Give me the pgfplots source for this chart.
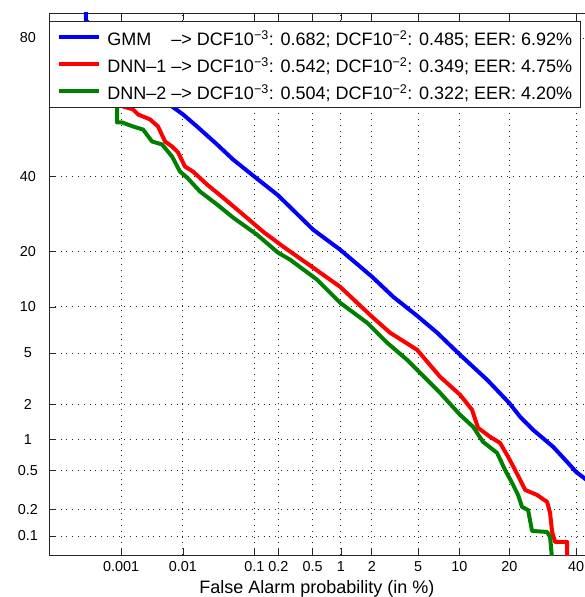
\documentclass[border=0pt]{standalone}
\usepackage{fontspec}
\setmainfont{Liberation Sans}
\usepackage{pgfplots}
\usepackage{pgfplotstable}
\pgfplotsset{compat=1.18}

\definecolor{detblue}{RGB}{0,0,255}
\definecolor{detred}{RGB}{255,0,0}
\definecolor{detgreen}{RGB}{0,128,0}

% DET curves, both rates given as normal deviates (probit of the probability)
\pgfplotstableread{
pfa pmiss
-4.574 1.187
-4.574 0.981
-3.815 0.301
-3.718 0.238
-3.595 0.143
-3.418 0.001
-3.277 -0.118
-3.101 -0.244
-2.881 -0.400
-2.687 -0.570
-2.572 -0.671
-2.334 -0.829
-2.052 -1.043
-1.866 -1.201
-1.655 -1.351
-1.478 -1.485
-1.276 -1.659
-1.037 -1.857
-0.843 -2.039
-0.746 -2.149
-0.632 -2.252
-0.455 -2.386
-0.332 -2.505
-0.253 -2.584
-0.182 -2.632
-0.085 -2.703
}\gmm

\pgfplotstableread{
pfa pmiss
-4.290 0.600
-4.247 0.301
-4.159 0.278
-4.115 0.238
-4.009 0.199
-3.939 0.143
-3.877 0.025
-3.815 -0.015
-3.762 -0.062
-3.701 -0.173
-3.630 -0.213
-3.507 -0.315
-3.366 -0.418
-3.189 -0.552
-3.013 -0.687
-2.836 -0.805
-2.572 -0.971
-2.334 -1.122
-2.052 -1.359
-1.893 -1.485
-1.655 -1.620
-1.452 -1.833
-1.276 -1.975
-1.205 -2.054
-1.170 -2.094
-1.117 -2.236
-1.011 -2.307
-0.923 -2.355
-0.852 -2.465
-0.791 -2.568
-0.746 -2.647
-0.702 -2.726
-0.597 -2.766
-0.508 -2.821
-0.482 -2.908
-0.464 -3.058
-0.438 -3.137
-0.332 -3.137
-0.332 -3.359
}\dnnone

\pgfplotstableread{
pfa pmiss
-4.300 0.600
-4.300 0.175
-4.256 0.175
-4.159 0.143
-4.071 0.119
-3.992 0.025
-3.903 0.001
-3.815 -0.094
-3.745 -0.213
-3.683 -0.260
-3.568 -0.371
-3.418 -0.473
-3.277 -0.576
-3.066 -0.711
-2.881 -0.853
-2.775 -0.908
-2.537 -1.066
-2.334 -1.248
-2.096 -1.406
-1.919 -1.564
-1.743 -1.699
-1.567 -1.857
-1.452 -1.960
-1.276 -2.133
-1.161 -2.228
-1.073 -2.347
-0.949 -2.434
-0.879 -2.568
-0.817 -2.671
-0.764 -2.766
-0.729 -2.861
-0.676 -2.884
-0.641 -3.050
-0.508 -3.058
-0.482 -3.098
-0.455 -3.359
}\dnntwo

\begin{document}
\begin{tikzpicture}
\begin{axis}[
    scale only axis,
    width=536pt, height=542pt,
    xmin=-4.900, xmax=-0.174,
    ymin=-3.240, ymax=1.039,
    xtick={-4.2649,-3.7190,-3.0902,-2.8782,-2.5758,-2.3263,-2.0537,-1.6449,-1.2816,-0.8416,-0.2533},
    xticklabels={0.001,0.01,0.1,0.2,0.5,1,2,5,10,20,40},
    ytick={-3.0902,-2.8782,-2.5758,-2.3263,-2.0537,-1.6449,-1.2816,-0.8416,-0.2533,0.8416},
    yticklabels={0.1,0.2,0.5,1,2,5,10,20,40,80},
    ytick pos=left,
    tick align=inside,
    major tick length=7pt,
    tick style={black!85, line width=0.8pt},
    axis line style={black!85, line width=0.9pt},
    grid=major,
    grid style={black!85, line width=0.9pt, dash pattern=on 1pt off 4.8pt},
    /pgf/number format/assume math mode=true,
    ticklabel style={font=\fontsize{14.4}{16}\selectfont},
    xticklabel style={yshift=-3pt},
    yticklabel style={anchor=center, xshift=-21pt},
    xlabel={False Alarm probability (in \%)},
    xlabel style={font=\fontsize{18}{20}\selectfont, yshift=-2pt},
    legend cell align=left,
    legend style={at={(0,1)}, anchor=north west, yshift=-8pt,
        draw=black!85, line width=0.9pt, fill=white,
        inner xsep=8pt, inner ysep=7.5pt, row sep=10pt,
        font=\fontsize{18}{20}\selectfont,
        nodes={inner sep=0pt, text height=17pt, text depth=0pt},
        /tikz/every odd column/.append style={column sep=6pt}},
    legend image code/.code={\draw[#1] (0pt,0pt) -- (40pt,0pt);},
    every axis plot/.append style={line width=4pt, line join=round},
]
\addplot[detblue] table[x=pfa, y=pmiss] {\gmm};
\addlegendentry{\rlap{GMM}\hphantom{DNN–1} –> DCF10\textsuperscript{−3}: 0.682; DCF10\textsuperscript{−2}: 0.485; EER: 6.92\%}
\addplot[detred] table[x=pfa, y=pmiss] {\dnnone};
\addlegendentry{DNN–1 –> DCF10\textsuperscript{−3}: 0.542; DCF10\textsuperscript{−2}: 0.349; EER: 4.75\%}
\addplot[detgreen] table[x=pfa, y=pmiss] {\dnntwo};
\addlegendentry{DNN–2 –> DCF10\textsuperscript{−3}: 0.504; DCF10\textsuperscript{−2}: 0.322; EER: 4.20\%}
\end{axis}
\pgfresetboundingbox
\path ([xshift=-49pt,yshift=-42pt]current axis.south west) rectangle ([xshift=-1pt,yshift=13pt]current axis.north east);
\end{tikzpicture}
\end{document}
